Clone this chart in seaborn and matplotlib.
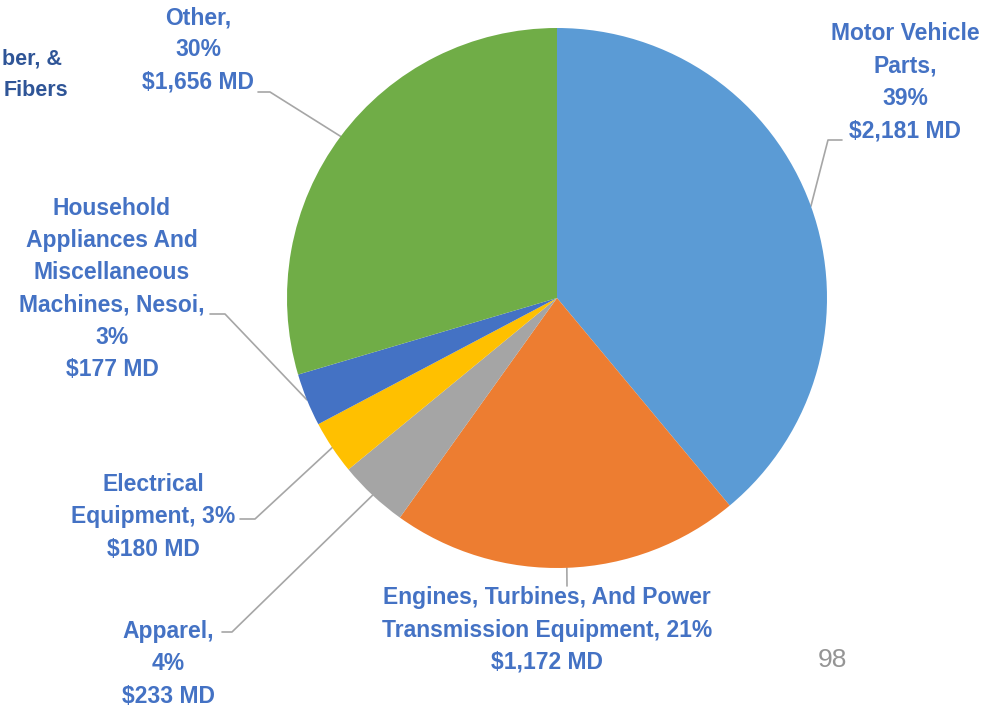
import numpy as np
import matplotlib
matplotlib.use("Agg")
import matplotlib.pyplot as plt
import seaborn as sns

# 데이터
categories = ["Motor Vehicle\nParts,", "Engines, Turbines, And Power\nTransmission Equipment,",
              "Apparel,", "Electrical\nEquipment,", "Household\nAppliances And\nMiscellaneous\nMachines, Nesoi,",
              "Other,"]
values = [2181, 1172, 233, 180, 177, 1656]
colors = ["#5B9BD5", "#ED7D31", "#A5A5A5", "#FFC000", "#4472C4", "#70AD47"]
pct_sep = ["\n", " ", "\n", " ", "\n", "\n"]

# 레이블 위치 (픽셀, 위에서부터) 와 꺾은선 시작점
label_pos = [(905, 82), (547, 630), (168, 664), (153, 517), (112, 289), (198, 50)]
elbow = [[(842, 140), (828, 140)], [(567, 586), (567, 586)], [(222, 632), (232, 632)],
         [(240, 519), (255, 519)], [(210, 314), (225, 314)], [(258, 92), (270, 92)]]

W, H = 1008, 708
sns.set_theme(style="white")
plt.rcParams["font.family"] = ["Liberation Sans", "DejaVu Sans"]

fig = plt.figure(figsize=(W / 100, H / 100), dpi=100)
ax = fig.add_axes([0, 0, 1, 1])
cx, cy, r = 557, H - 298, 270
wedges, _ = ax.pie(values, colors=colors, startangle=90, counterclock=False,
                   center=(cx, cy), radius=r, wedgeprops=dict(linewidth=0))
ax.set_xlim(0, W)
ax.set_ylim(0, H)
ax.set_aspect("equal")
ax.axis("off")

total = sum(values)
for i, w in enumerate(wedges):
    mid = np.deg2rad((w.theta1 + w.theta2) / 2)
    px, py = cx + r * np.cos(mid), cy + r * np.sin(mid)
    (x0, y0), (x1, y1) = elbow[i]
    ax.plot([x0, x1, px], [H - y0, H - y1, py], color="#A6A6A6", lw=1.2, zorder=0)
    pct = round(values[i] / total * 100)
    txt = f"{categories[i]}{pct_sep[i]}{pct}%\n${values[i]:,} MD"
    lx, ly = label_pos[i]
    ax.text(lx, H - ly, txt, ha="center", va="center", fontsize=16.5, fontweight="bold",
            color="#4472C4", linespacing=1.52)

# 잘린 레이블
ax.text(2, H - 59, "ber, &", ha="left", va="center", fontsize=15.5, fontweight="bold", color="#2F5597")
ax.text(4, H - 91, "Fibers", ha="left", va="center", fontsize=15.5, fontweight="bold", color="#2F5597")

# 페이지 번호
ax.text(832, H - 660, "98", ha="center", va="center", fontsize=19, color="#959595")

plt.savefig("out.png", dpi=100)
